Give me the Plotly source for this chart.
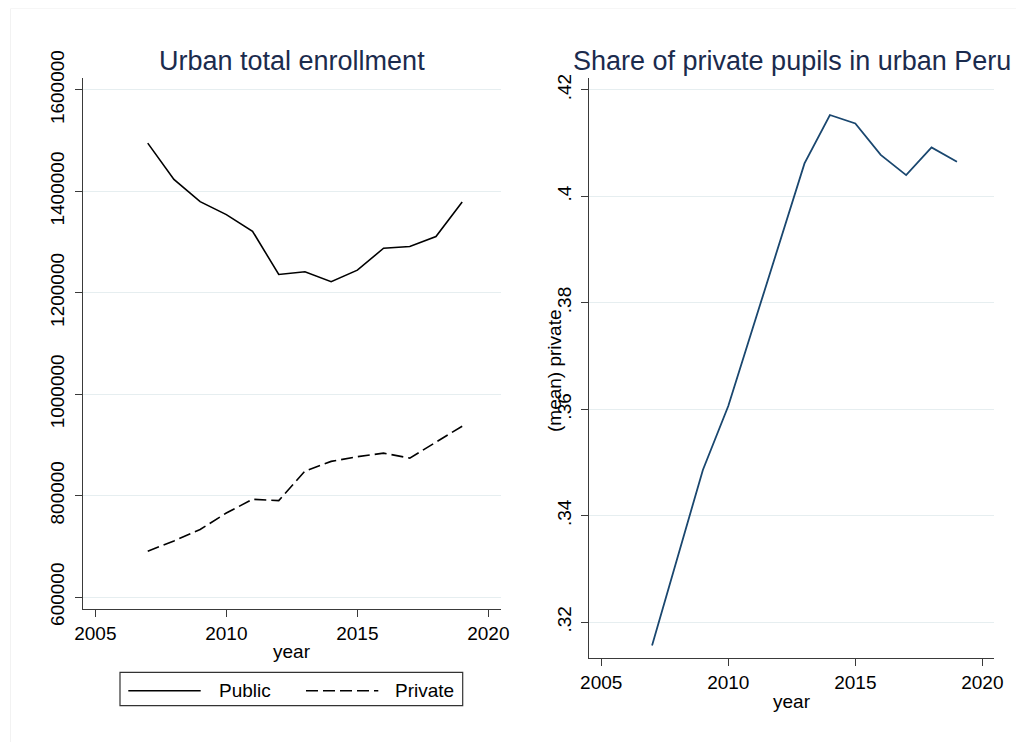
import plotly.graph_objects as go
from plotly.subplots import make_subplots

# Urban enrollment in Peru, public vs private, and the private share
years = [2007, 2008, 2009, 2010, 2011, 2012, 2013, 2014, 2015, 2016, 2017, 2018, 2019]
public = [1495200, 1423600, 1379700, 1354200, 1321400, 1236200, 1241400,
          1221800, 1244600, 1287900, 1291200, 1310900, 1379100]
private = [690500, 710700, 733100, 765800, 792700, 790200, 848400,
           867500, 876700, 883800, 874000, 904800, 936900]
share_private = [0.3156, 0.3323, 0.3486, 0.3606, 0.3757, 0.3910, 0.4062,
                 0.4153, 0.4137, 0.4078, 0.4040, 0.4092, 0.4065]

x_ticks = [2005, 2010, 2015, 2020]
left_ticks = [600000, 800000, 1000000, 1200000, 1400000, 1600000]
left_tick_text = ["600000", "800000", "1000000", "1200000", "1400000", "1600000"]
right_ticks = [0.32, 0.34, 0.36, 0.38, 0.40, 0.42]
right_tick_text = [".32", ".34", ".36", ".38", ".4", ".42"]

W, H = 1016, 742
FONT = "Liberation Sans, Arial, sans-serif"
TITLE_COLOR = "#1b2b4d"
AXIS_COLOR = "#3a3a3a"
GRID_COLOR = "#e6eef0"
NAVY = "#1a476f"
DASH = "12px,5px"


def px_x(p):
    return p / W


def px_y(p):
    return (H - p) / H


fig = make_subplots(rows=1, cols=2)

fig.add_trace(go.Scatter(x=years, y=public, mode="lines", name="Public",
                         line=dict(color="black", width=1.6)), row=1, col=1)
fig.add_trace(go.Scatter(x=years, y=private, mode="lines", name="Private",
                         line=dict(color="black", width=1.6, dash=DASH)), row=1, col=1)
fig.add_trace(go.Scatter(x=years, y=share_private, mode="lines", name="(mean) private",
                         line=dict(color=NAVY, width=1.8)), row=1, col=2)

axis_common = dict(
    automargin=False,
    showline=True, linecolor=AXIS_COLOR, linewidth=1.3,
    ticks="outside", ticklen=7, tickwidth=1.2, tickcolor=AXIS_COLOR,
    tickfont=dict(family=FONT, size=19, color="black"),
    zeroline=False,
)

fig.update_xaxes(range=[2004.53, 2020.47], tickvals=x_ticks, showgrid=False,
                 **axis_common)
fig.update_xaxes(domain=[px_x(83), px_x(500.7)], row=1, col=1)
fig.update_xaxes(domain=[px_x(589.3), px_x(994.3)], row=1, col=2)

fig.update_yaxes(showgrid=True, gridcolor=GRID_COLOR, gridwidth=1.2,
                 tickangle=-90, ticklabelstandoff=3, **axis_common)
fig.update_yaxes(domain=[px_y(608.7), px_y(78)], range=[577000, 1623600],
                 tickvals=left_ticks, ticktext=left_tick_text, row=1, col=1)
fig.update_yaxes(domain=[px_y(658.3), px_y(78)], range=[0.3132, 0.42225],
                 tickvals=right_ticks, ticktext=right_tick_text, row=1, col=2)

annotations = [
    dict(text="Urban total enrollment", x=px_x(291.9), y=px_y(60.5),
         font=dict(family=FONT, size=27, color=TITLE_COLOR)),
    dict(text="Share of private pupils in urban Peru", x=px_x(791.8), y=px_y(60.5),
         font=dict(family=FONT, size=27, color=TITLE_COLOR)),
    dict(text="year", x=px_x(292), y=px_y(651),
         font=dict(family=FONT, size=19, color="black")),
    dict(text="year", x=px_x(791.5), y=px_y(701),
         font=dict(family=FONT, size=19, color="black")),
    dict(text="(mean) private", x=px_x(554), y=px_y(371), textangle=-90,
         font=dict(family=FONT, size=19, color="black")),
    dict(text="Public", x=px_x(216.7), y=px_y(690.5), xanchor="left",
         font=dict(family=FONT, size=19, color="black")),
    dict(text="Private", x=px_x(393.3), y=px_y(690.5), xanchor="left",
         font=dict(family=FONT, size=19, color="black")),
]
for a in annotations:
    a.setdefault("xanchor", "center")
    a.update(xref="paper", yref="paper", yanchor="middle", showarrow=False)
fig.update_layout(annotations=annotations)

# Legend box and line samples below the left panel
shapes = [
    dict(type="rect", x0=px_x(120), x1=px_x(462.7), y0=px_y(705.7), y1=px_y(672.3),
         line=dict(color="#333333", width=1.2), fillcolor="white"),
    dict(type="line", x0=px_x(128.3), x1=px_x(200.7), y0=px_y(690.7), y1=px_y(690.7),
         line=dict(color="black", width=1.6)),
    dict(type="line", x0=px_x(306), x1=px_x(378.3), y0=px_y(690.7), y1=px_y(690.7),
         line=dict(color="black", width=1.6, dash=DASH)),
    # faint frame edges around the graph region
    dict(type="line", x0=px_x(10.5), x1=px_x(10.5), y0=px_y(742), y1=px_y(8.5),
         line=dict(color="#f2f2f2", width=1)),
    dict(type="line", x0=px_x(10.5), x1=px_x(1016), y0=px_y(8.5), y1=px_y(8.5),
         line=dict(color="#f6f6f6", width=1)),
]
for s in shapes:
    s.update(xref="paper", yref="paper")
fig.update_layout(shapes=shapes)

fig.update_layout(
    template="none",
    width=W, height=H,
    margin=dict(l=0, r=0, t=0, b=0, pad=0),
    paper_bgcolor="white", plot_bgcolor="white",
    showlegend=False,
    font=dict(family=FONT, color="black"),
)

fig.write_html("out.html")
